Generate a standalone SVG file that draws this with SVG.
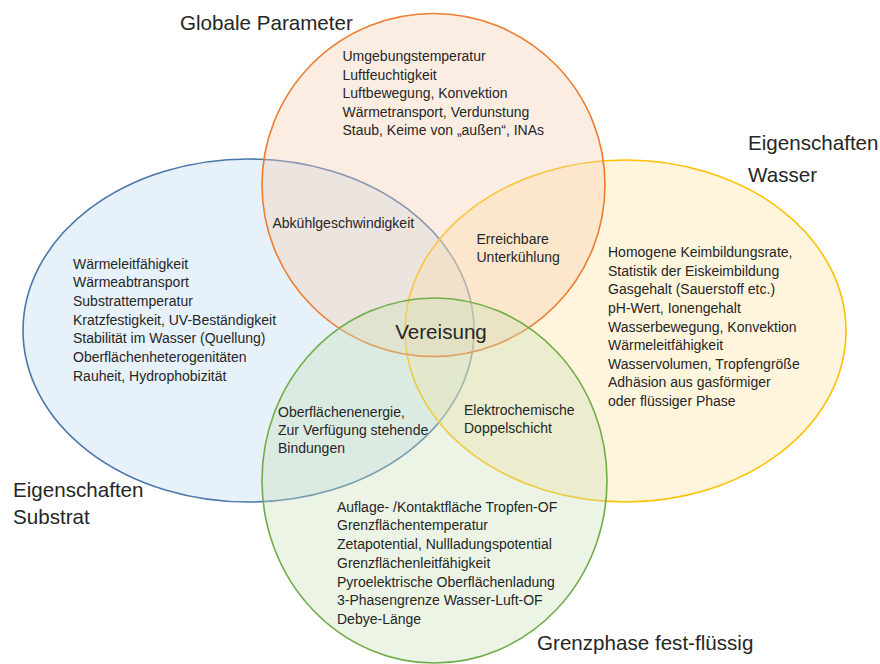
<svg xmlns="http://www.w3.org/2000/svg" width="880" height="664" viewBox="0 0 880 664">
<style>
  text { font-family: "Liberation Sans", Arial, sans-serif; fill: #262626; }
  .body { font-size: 14px; }
  .title { font-size: 20.6px; }
  .set { stroke-width: 1.6; fill-opacity: 0.36; }
</style>
<rect x="0" y="0" width="880" height="664" fill="#ffffff"/>
<g id="substrat">
  <ellipse class="set" cx="248.5" cy="330.5" rx="225.5" ry="171.5" fill="#BDD7EE" stroke="#4A76AB"/>
  <text class="title" x="13" y="497">Eigenschaften</text>
  <text class="title" x="13" y="524">Substrat</text>
  <text class="body" x="73" y="268.5">Wärmeleitfähigkeit</text>
  <text class="body" x="73" y="287.2">Wärmeabtransport</text>
  <text class="body" x="73" y="305.9">Substrattemperatur</text>
  <text class="body" x="73" y="324.6">Kratzfestigkeit, UV-Beständigkeit</text>
  <text class="body" x="73" y="343.3">Stabilität im Wasser (Quellung)</text>
  <text class="body" x="73" y="362">Oberflächenheterogenitäten</text>
  <text class="body" x="73" y="380.7">Rauheit, Hydrophobizität</text>
</g>
<g id="wasser">
  <ellipse class="set" cx="625.5" cy="331" rx="220.5" ry="171" fill="#FFE39E" stroke="#FFC000"/>
  <text class="title" x="748" y="149.5">Eigenschaften</text>
  <text class="title" x="748" y="181.5">Wasser</text>
  <text class="body" x="608" y="257.3">Homogene Keimbildungsrate,</text>
  <text class="body" x="608" y="275.9">Statistik der Eiskeimbildung</text>
  <text class="body" x="608" y="294.4">Gasgehalt (Sauerstoff etc.)</text>
  <text class="body" x="608" y="313">pH-Wert, Ionengehalt</text>
  <text class="body" x="608" y="331.5">Wasserbewegung, Konvektion</text>
  <text class="body" x="608" y="350.1">Wärmeleitfähigkeit</text>
  <text class="body" x="608" y="368.6">Wasservolumen, Tropfengröße</text>
  <text class="body" x="608" y="387.2">Adhäsion aus gasförmiger</text>
  <text class="body" x="608" y="405.7">oder flüssiger Phase</text>
</g>
<g id="global">
  <ellipse class="set" cx="433.5" cy="185" rx="171.5" ry="171.5" fill="#F6CDB2" stroke="#ED7D31"/>
  <text class="title" x="180" y="30">Globale Parameter</text>
  <text class="body" x="342.5" y="61">Umgebungstemperatur</text>
  <text class="body" x="342.5" y="79.5">Luftfeuchtigkeit</text>
  <text class="body" x="342.5" y="98">Luftbewegung, Konvektion</text>
  <text class="body" x="342.5" y="116.5">Wärmetransport, Verdunstung</text>
  <text class="body" x="342.5" y="135">Staub, Keime von „außen“, INAs</text>
</g>
<g id="grenzphase">
  <ellipse class="set" cx="434.5" cy="480.5" rx="172.5" ry="182.5" fill="#C8E0B8" stroke="#70AD47"/>
  <text class="title" x="537" y="649.5">Grenzphase fest-flüssig</text>
  <text class="body" x="337" y="511.7">Auflage- /Kontaktfläche Tropfen-OF</text>
  <text class="body" x="337" y="530.4">Grenzflächentemperatur</text>
  <text class="body" x="337" y="549.1">Zetapotential, Nullladungspotential</text>
  <text class="body" x="337" y="567.8">Grenzflächenleitfähigkeit</text>
  <text class="body" x="337" y="586.5">Pyroelektrische Oberflächenladung</text>
  <text class="body" x="337" y="605.2">3-Phasengrenze Wasser-Luft-OF</text>
  <text class="body" x="337" y="624">Debye-Länge</text>
</g>
<g id="overlaps">
  <text class="body" x="272.5" y="227.5">Abkühlgeschwindigkeit</text>
  <text class="body" x="476.5" y="243.5">Erreichbare</text>
  <text class="body" x="476.5" y="262">Unterkühlung</text>
  <text class="title" x="441" y="338.5" text-anchor="middle">Vereisung</text>
  <text class="body" x="278" y="416.7">Oberflächenenergie,</text>
  <text class="body" x="278" y="435">Zur Verfügung stehende</text>
  <text class="body" x="278" y="453.3">Bindungen</text>
  <text class="body" x="464" y="415">Elektrochemische</text>
  <text class="body" x="464" y="433.3">Doppelschicht</text>
</g>
</svg>
